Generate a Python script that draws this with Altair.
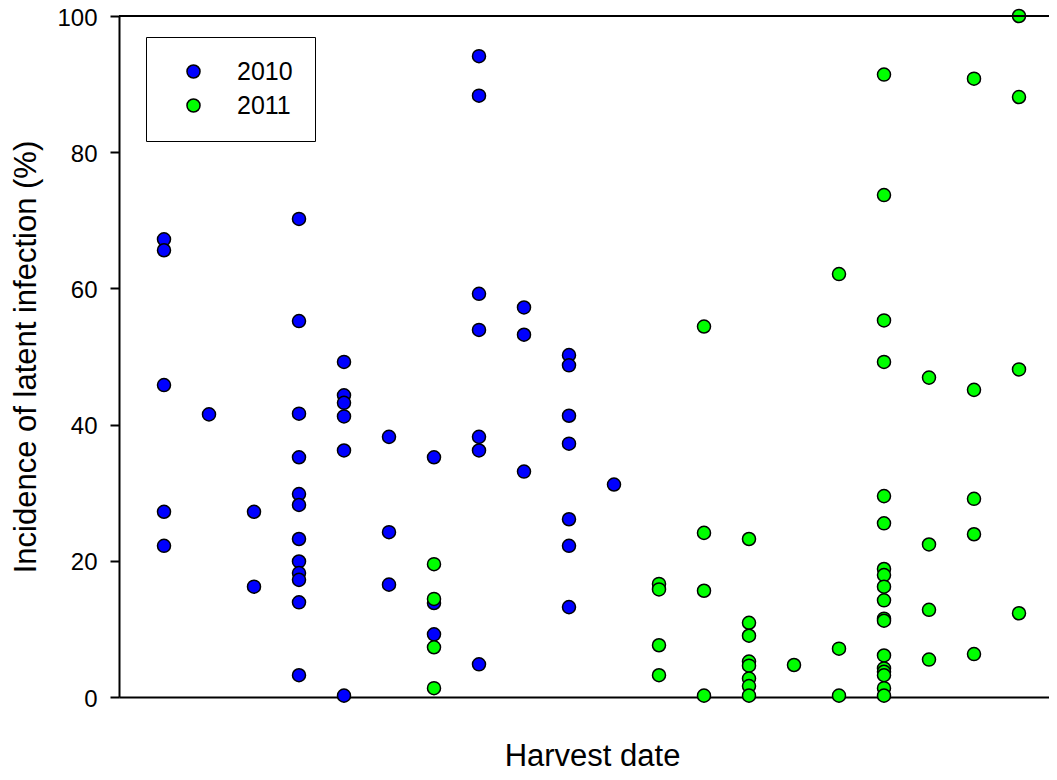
import altair as alt
import pandas as pd

# Harvest date index (columns along x) and incidence values (%) for each year
dates_2010 = [1, 2, 3, 4, 5, 6, 7, 8, 9, 10, 11]
values_2010 = [
    [67.2, 65.6, 45.8, 27.2, 22.2],
    [41.5],
    [27.2, 16.2],
    [70.2, 55.2, 41.6, 35.2, 29.8, 28.2, 23.2, 19.9, 18.2, 17.2, 13.9, 3.2],
    [49.2, 44.3, 43.2, 41.2, 36.2, 0.2],
    [38.2, 24.2, 16.5],
    [35.2, 13.8, 9.2],
    [94.1, 88.3, 59.2, 53.9, 38.2, 36.2, 4.8],
    [57.2, 53.2, 33.1],
    [50.2, 48.7, 41.3, 37.2, 26.1, 22.2, 13.2],
    [31.2],
]

dates_2011 = [7, 12, 13, 14, 15, 16, 17, 18, 19, 20]
values_2011 = [
    [19.5, 14.4, 7.3, 1.3],
    [16.6, 15.8, 7.6, 3.2],
    [54.4, 24.1, 15.6, 0.2],
    [23.2, 10.9, 9.0, 5.2, 4.6, 2.7, 1.6, 0.2],
    [4.7],
    [62.1, 7.1, 0.2],
    [91.4, 73.7, 55.3, 49.2, 29.5, 25.5, 18.8, 17.9, 16.2, 14.2, 11.5, 11.2, 6.1, 4.2, 3.7, 3.2, 1.3, 0.2],
    [46.9, 22.4, 12.8, 5.5],
    [90.8, 45.1, 29.1, 23.9, 6.3],
    [100.0, 88.1, 48.1, 12.3],
]

years = ["2010", "2011"]
colors = ["#0000ff", "#00ff00"]
y_ticks = [0, 20, 40, 60, 80, 100]

rows = []
for year, dates, vals in [("2010", dates_2010, values_2010), ("2011", dates_2011, values_2011)]:
    for d, vs in zip(dates, vals):
        for v in vs:
            rows.append({"date": d, "incidence": v, "year": year})
df = pd.DataFrame(rows)

FONT = "Liberation Sans"
W, H = 930, 681

points = alt.Chart(df).mark_point(
    filled=True, shape="circle", size=170, stroke="black", strokeWidth=1.5, opacity=1
).encode(
    x=alt.X("date:Q",
            scale=alt.Scale(domain=[0, W / 45.0], nice=False, zero=False),
            axis=alt.Axis(labels=False, ticks=False, grid=False, domainColor="black",
                          domainWidth=2, title="Harvest date", titleFont=FONT,
                          titleFontSize=31, titleFontWeight="normal", titleColor="black",
                          titleX=473, titleY=68, titleBaseline="alphabetic",
                          titleAlign="center")),
    y=alt.Y("incidence:Q",
            scale=alt.Scale(domain=[0, 100], nice=False),
            axis=alt.Axis(values=y_ticks, grid=False, domainColor="black", domainWidth=2,
                          tickColor="black", tickWidth=2, tickSize=9, labelPadding=13,
                          labelOffset=2,
                          labelFont=FONT, labelFontSize=24, labelColor="black",
                          title="Incidence of latent infection (%)", titleFont=FONT,
                          titleFontSize=31, titleFontWeight="normal", titleColor="black",
                          titleX=-84, titleY=H / 2, titleAngle=270,
                          titleBaseline="alphabetic", titleAlign="center")),
    color=alt.Color("year:N",
                    scale=alt.Scale(domain=years, range=colors),
                    legend=alt.Legend(title=None, orient="none", legendX=27, legendY=21,
                                      strokeColor="black", padding=22,
                                      symbolSize=170, symbolStrokeColor="black",
                                      symbolStrokeWidth=1.5, symbolType="circle",
                                      symbolOffset=13, labelOffset=31,
                                      labelFont=FONT, labelFontSize=25, labelColor="black",
                                      rowPadding=8)),
    order=alt.Order("year:N"),
)

top_line = alt.Chart(df).mark_rule(color="black", strokeWidth=2).encode(
    x=alt.value(0), x2=alt.value(W), y=alt.value(0)
)

chart = alt.layer(points, top_line).properties(
    width=W, height=H,
    padding={"left": 111, "top": 8, "right": 0, "bottom": 75},
    autosize=alt.AutoSizeParams(type="none"),
).configure_view(stroke=None)

chart.save("out.html", embed_options={"renderer": "svg", "actions": False})
